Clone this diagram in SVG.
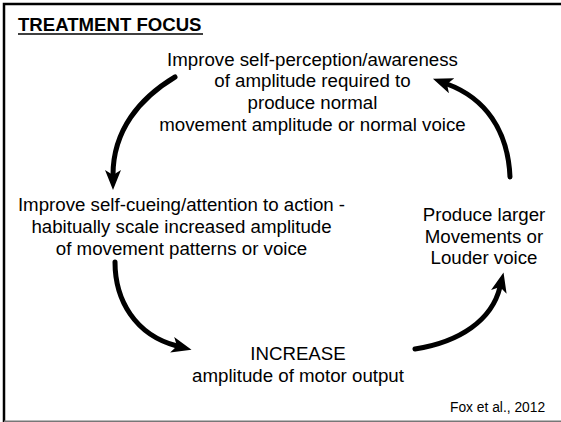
<svg xmlns="http://www.w3.org/2000/svg" width="561" height="422" viewBox="0 0 561 422">
  <style>
    .t { font-family: "Liberation Sans", Arial, sans-serif; font-size: 18.7px; fill: #000; text-anchor: middle; }
    .title { font-family: "Liberation Sans", Arial, sans-serif; font-size: 18.6px; font-weight: bold; fill: #000; }
    .cite { font-family: "Liberation Sans", Arial, sans-serif; font-size: 13.8px; fill: #000; }
    .arc { fill: none; stroke: #000; stroke-width: 5; stroke-linecap: round; marker-end: url(#head); }
  </style>
  <defs>
    <marker id="head" viewBox="0 0 20 16" refX="5" refY="8" markerWidth="20" markerHeight="16" markerUnits="userSpaceOnUse" orient="auto">
      <path d="M0,0 L20,8 L0,16 L5,8 z" fill="#000"/>
    </marker>
  </defs>

  <rect width="561" height="422" fill="#fff"/>
  <!-- frame -->
  <path d="M4,422 V4 H561" fill="none" stroke="#000" stroke-width="2.5"/>
  <line x1="4" y1="421.2" x2="561" y2="421.2" stroke="#777" stroke-width="1.5"/>

  <text class="title" x="18" y="31">TREATMENT FOCUS</text>
  <line x1="18" y1="34" x2="203" y2="34" stroke="#000" stroke-width="1.6"/>

  <g id="node-perception">
    <text class="t" x="312.5" y="65.5">Improve self-perception/awareness</text>
    <text class="t" x="312.5" y="87">of amplitude required to</text>
    <text class="t" x="312.5" y="109">produce normal</text>
    <text class="t" x="312.5" y="131">movement amplitude or normal voice</text>
  </g>

  <g id="node-cueing">
    <text class="t" x="181.5" y="211">Improve self-cueing/attention to action -</text>
    <text class="t" x="181.5" y="233">habitually scale increased amplitude</text>
    <text class="t" x="181.5" y="255">of movement patterns or voice</text>
  </g>

  <g id="node-increase">
    <text class="t" x="298" y="359.5">INCREASE</text>
    <text class="t" x="298" y="382">amplitude of motor output</text>
  </g>

  <g id="node-produce">
    <text class="t" x="484" y="221">Produce larger</text>
    <text class="t" x="484" y="243">Movements or</text>
    <text class="t" x="484" y="264">Louder voice</text>
  </g>

  <g id="connectors">
    <path class="arc" d="M175,77 C140,98 113,130 113,175"/>
    <path class="arc" d="M115,262 C115,300 135,335 177,346"/>
    <path class="arc" d="M415,349 C460,342 492,320 500,287"/>
    <path class="arc" d="M510,177 C508,130 485,98 447,84"/>
  </g>

  <text class="cite" x="450" y="412">Fox et al., 2012</text>
</svg>
